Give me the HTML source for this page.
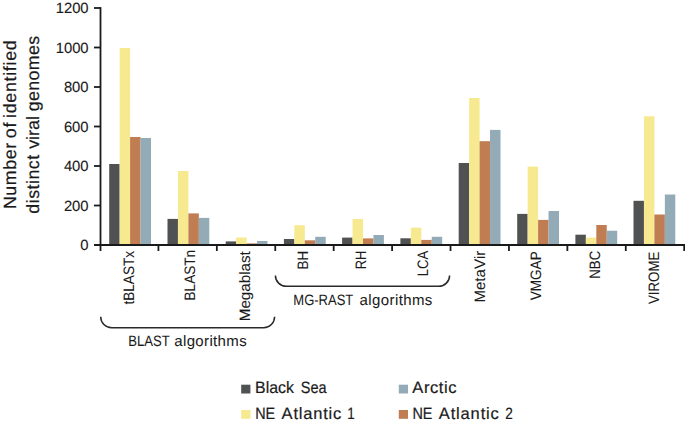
<!DOCTYPE html>
<html><head><meta charset="utf-8"><style>
html,body{margin:0;padding:0;background:#fff;width:685px;height:425px;overflow:hidden}
text{stroke:#1a1a1a;text-rendering:geometricPrecision;font-kerning:none;font-variant-ligatures:none;white-space:pre}
</style></head><body>
<svg width="685" height="425" viewBox="0 0 685 425" style="display:block">
<rect width="685" height="425" fill="#fff"/>
<rect x="109.20" y="164.00" width="10.45" height="81.00" fill="#505152"/>
<rect x="119.65" y="48.00" width="10.45" height="197.00" fill="#f6e98f"/>
<rect x="130.10" y="137.00" width="10.45" height="108.00" fill="#c07d52"/>
<rect x="140.55" y="138.00" width="10.45" height="107.00" fill="#92abb6"/>
<rect x="167.50" y="218.90" width="10.45" height="26.10" fill="#505152"/>
<rect x="177.95" y="171.00" width="10.45" height="74.00" fill="#f6e98f"/>
<rect x="188.40" y="213.40" width="10.45" height="31.60" fill="#c07d52"/>
<rect x="198.85" y="217.90" width="10.45" height="27.10" fill="#92abb6"/>
<rect x="225.70" y="241.40" width="10.45" height="3.60" fill="#505152"/>
<rect x="236.15" y="237.50" width="10.45" height="7.50" fill="#f6e98f"/>
<rect x="246.60" y="243.40" width="10.45" height="1.60" fill="#c07d52"/>
<rect x="257.05" y="241.00" width="10.45" height="4.00" fill="#92abb6"/>
<rect x="283.90" y="239.00" width="10.45" height="6.00" fill="#505152"/>
<rect x="294.35" y="225.20" width="10.45" height="19.80" fill="#f6e98f"/>
<rect x="304.80" y="240.30" width="10.45" height="4.70" fill="#c07d52"/>
<rect x="315.25" y="236.80" width="10.45" height="8.20" fill="#92abb6"/>
<rect x="342.10" y="237.60" width="10.45" height="7.40" fill="#505152"/>
<rect x="352.55" y="219.00" width="10.45" height="26.00" fill="#f6e98f"/>
<rect x="363.00" y="238.40" width="10.45" height="6.60" fill="#c07d52"/>
<rect x="373.45" y="235.00" width="10.45" height="10.00" fill="#92abb6"/>
<rect x="400.40" y="238.30" width="10.45" height="6.70" fill="#505152"/>
<rect x="410.85" y="227.60" width="10.45" height="17.40" fill="#f6e98f"/>
<rect x="421.30" y="239.90" width="10.45" height="5.10" fill="#c07d52"/>
<rect x="431.75" y="236.80" width="10.45" height="8.20" fill="#92abb6"/>
<rect x="458.70" y="163.00" width="10.45" height="82.00" fill="#505152"/>
<rect x="469.15" y="98.00" width="10.45" height="147.00" fill="#f6e98f"/>
<rect x="479.60" y="141.20" width="10.45" height="103.80" fill="#c07d52"/>
<rect x="490.05" y="129.90" width="10.45" height="115.10" fill="#92abb6"/>
<rect x="517.20" y="213.90" width="10.45" height="31.10" fill="#505152"/>
<rect x="527.65" y="166.60" width="10.45" height="78.40" fill="#f6e98f"/>
<rect x="538.10" y="219.90" width="10.45" height="25.10" fill="#c07d52"/>
<rect x="548.55" y="211.00" width="10.45" height="34.00" fill="#92abb6"/>
<rect x="575.40" y="234.70" width="10.45" height="10.30" fill="#505152"/>
<rect x="585.85" y="237.60" width="10.45" height="7.40" fill="#f6e98f"/>
<rect x="596.30" y="225.00" width="10.45" height="20.00" fill="#c07d52"/>
<rect x="606.75" y="230.70" width="10.45" height="14.30" fill="#92abb6"/>
<rect x="633.50" y="200.80" width="10.45" height="44.20" fill="#505152"/>
<rect x="643.95" y="116.30" width="10.45" height="128.70" fill="#f6e98f"/>
<rect x="654.40" y="214.50" width="10.45" height="30.50" fill="#c07d52"/>
<rect x="664.85" y="194.50" width="10.45" height="50.50" fill="#92abb6"/>
<g stroke="#1a1a1a" stroke-width="1.8" fill="none">
<line x1="100.5" y1="7.1" x2="100.5" y2="251"/>
<line x1="94" y1="245.0" x2="685" y2="245.0"/>
<line x1="94" y1="8.0" x2="100.5" y2="8.0"/>
<line x1="94" y1="47.5" x2="100.5" y2="47.5"/>
<line x1="94" y1="87.0" x2="100.5" y2="87.0"/>
<line x1="94" y1="126.5" x2="100.5" y2="126.5"/>
<line x1="94" y1="166.0" x2="100.5" y2="166.0"/>
<line x1="94" y1="205.5" x2="100.5" y2="205.5"/>
<line x1="94" y1="245.0" x2="100.5" y2="245.0"/>
<line x1="158.42" y1="245.0" x2="158.42" y2="251"/>
<line x1="216.84" y1="245.0" x2="216.84" y2="251"/>
<line x1="275.26" y1="245.0" x2="275.26" y2="251"/>
<line x1="333.68" y1="245.0" x2="333.68" y2="251"/>
<line x1="392.10" y1="245.0" x2="392.10" y2="251"/>
<line x1="450.52" y1="245.0" x2="450.52" y2="251"/>
<line x1="508.94" y1="245.0" x2="508.94" y2="251"/>
<line x1="567.36" y1="245.0" x2="567.36" y2="251"/>
<line x1="625.78" y1="245.0" x2="625.78" y2="251"/>
<line x1="684.20" y1="245.0" x2="684.20" y2="251"/>
</g>
<g font-family='"Liberation Sans", sans-serif' font-size="14.8" fill="#1a1a1a" stroke-width="0.1" text-anchor="end">
<text x="88.6" y="13.35">1200</text>
<text x="88.6" y="52.85">1000</text>
<text x="88.6" y="92.35">800</text>
<text x="88.6" y="131.85">600</text>
<text x="88.6" y="171.35">400</text>
<text x="88.6" y="210.85">200</text>
<text x="88.6" y="250.35">0</text>
</g>
<text font-family='"Liberation Sans", sans-serif' font-size="17.8" fill="#1a1a1a" stroke-width="0.2" transform="translate(15.96,0) rotate(-90)" x="-209.06" textLength="66.16" lengthAdjust="spacing">Number</text>
<text font-family='"Liberation Sans", sans-serif' font-size="17.8" fill="#1a1a1a" stroke-width="0.2" transform="translate(15.96,0) rotate(-90)" x="-138.35" textLength="15.82" lengthAdjust="spacing">of</text>
<text font-family='"Liberation Sans", sans-serif' font-size="17.8" fill="#1a1a1a" stroke-width="0.2" transform="translate(15.96,0) rotate(-90)" x="-117.89" textLength="77.54" lengthAdjust="spacing">identified</text>
<text font-family='"Liberation Sans", sans-serif' font-size="17.8" fill="#1a1a1a" stroke-width="0.2" transform="translate(38.96,0) rotate(-90)" x="-213.65" textLength="58.78" lengthAdjust="spacing">distinct</text>
<text font-family='"Liberation Sans", sans-serif' font-size="17.8" fill="#1a1a1a" stroke-width="0.2" transform="translate(38.96,0) rotate(-90)" x="-148.86" textLength="32.86" lengthAdjust="spacingAndGlyphs">viral</text>
<text font-family='"Liberation Sans", sans-serif' font-size="17.8" fill="#1a1a1a" stroke-width="0.2" transform="translate(38.96,0) rotate(-90)" x="-111.35" textLength="75.59" lengthAdjust="spacing">genomes</text>
<text font-family='"Liberation Sans", sans-serif' font-size="15.1" fill="#1a1a1a" stroke-width="0.05" transform="translate(133.70,0) rotate(-90)" x="-304.51" textLength="53.55" lengthAdjust="spacingAndGlyphs">tBLASTx</text>
<text font-family='"Liberation Sans", sans-serif' font-size="15.1" fill="#1a1a1a" stroke-width="0.05" transform="translate(195.26,0) rotate(-90)" x="-300.41" textLength="50.39" lengthAdjust="spacingAndGlyphs">BLASTn</text>
<text font-family='"Liberation Sans", sans-serif' font-size="15.1" fill="#1a1a1a" stroke-width="0.05" transform="translate(249.60,0) rotate(-90)" x="-321.25" textLength="70.06" lengthAdjust="spacingAndGlyphs">Megablast</text>
<text font-family='"Liberation Sans", sans-serif' font-size="15.1" fill="#1a1a1a" stroke-width="0.05" transform="translate(308.40,0) rotate(-90)" x="-269.40" textLength="18.70" lengthAdjust="spacingAndGlyphs">BH</text>
<text font-family='"Liberation Sans", sans-serif' font-size="15.1" fill="#1a1a1a" stroke-width="0.05" transform="translate(365.72,0) rotate(-90)" x="-269.36" textLength="18.61" lengthAdjust="spacingAndGlyphs">RH</text>
<text font-family='"Liberation Sans", sans-serif' font-size="15.1" fill="#1a1a1a" stroke-width="0.05" transform="translate(427.60,0) rotate(-90)" x="-276.27" textLength="25.40" lengthAdjust="spacingAndGlyphs">LCA</text>
<text font-family='"Liberation Sans", sans-serif' font-size="15.1" fill="#1a1a1a" stroke-width="0.05" transform="translate(484.94,0) rotate(-90)" x="-302.53" textLength="51.78" lengthAdjust="spacingAndGlyphs">MetaVir</text>
<text font-family='"Liberation Sans", sans-serif' font-size="15.1" fill="#1a1a1a" stroke-width="0.05" transform="translate(540.60,0) rotate(-90)" x="-300.36" textLength="49.08" lengthAdjust="spacingAndGlyphs">VMGAP</text>
<text font-family='"Liberation Sans", sans-serif' font-size="15.1" fill="#1a1a1a" stroke-width="0.05" transform="translate(600.38,0) rotate(-90)" x="-278.79" textLength="27.99" lengthAdjust="spacingAndGlyphs">NBC</text>
<text font-family='"Liberation Sans", sans-serif' font-size="15.1" fill="#1a1a1a" stroke-width="0.05" transform="translate(659.40,0) rotate(-90)" x="-304.06" textLength="52.33" lengthAdjust="spacingAndGlyphs">VIROME</text>
<g stroke="#2a2a2a" stroke-width="1.5" fill="none">
<path d="M100.7 316.8 A10.90 10.90 0 0 0 111.60 327.7 H263.70 A10.90 10.90 0 0 0 274.6 316.8"/>
<path d="M275.4 275.4 A10.90 10.90 0 0 0 286.30 286.3 H438.70 A10.90 10.90 0 0 0 449.6 275.4"/>
</g>
<text font-family='"Liberation Sans", sans-serif' font-size="15.0" fill="#1a1a1a" stroke-width="0.05" x="128.23" y="345.50" textLength="41.47" lengthAdjust="spacingAndGlyphs">BLAST</text>
<text font-family='"Liberation Sans", sans-serif' font-size="15.0" fill="#1a1a1a" stroke-width="0.05" x="174.26" y="345.50" textLength="72.38" lengthAdjust="spacing">algorithms</text>
<text font-family='"Liberation Sans", sans-serif' font-size="15.0" fill="#1a1a1a" stroke-width="0.05" x="293.33" y="304.50" textLength="59.97" lengthAdjust="spacingAndGlyphs">MG-RAST</text>
<text font-family='"Liberation Sans", sans-serif' font-size="15.0" fill="#1a1a1a" stroke-width="0.05" x="359.56" y="304.50" textLength="72.78" lengthAdjust="spacing">algorithms</text>
<text font-family='"Liberation Sans", sans-serif' font-size="16.5" fill="#1a1a1a" stroke-width="0.2" x="255.10" y="393.30" textLength="38.78" lengthAdjust="spacingAndGlyphs">Black</text>
<text font-family='"Liberation Sans", sans-serif' font-size="16.5" fill="#1a1a1a" stroke-width="0.2" x="300.74" y="393.30" textLength="25.76" lengthAdjust="spacingAndGlyphs">Sea</text>
<text font-family='"Liberation Sans", sans-serif' font-size="16.5" fill="#1a1a1a" stroke-width="0.2" x="255.22" y="418.50" textLength="20.00" lengthAdjust="spacingAndGlyphs">NE</text>
<text font-family='"Liberation Sans", sans-serif' font-size="16.5" fill="#1a1a1a" stroke-width="0.2" x="281.57" y="418.50" textLength="59.77" lengthAdjust="spacing">Atlantic</text>
<text font-family='"Liberation Sans", sans-serif' font-size="16.5" fill="#1a1a1a" stroke-width="0.2" x="347.28" y="418.50" textLength="7.48" lengthAdjust="spacingAndGlyphs">1</text>
<text font-family='"Liberation Sans", sans-serif' font-size="16.5" fill="#1a1a1a" stroke-width="0.2" x="412.37" y="393.30" textLength="44.17" lengthAdjust="spacing">Arctic</text>
<text font-family='"Liberation Sans", sans-serif' font-size="16.5" fill="#1a1a1a" stroke-width="0.2" x="412.42" y="418.50" textLength="20.00" lengthAdjust="spacingAndGlyphs">NE</text>
<text font-family='"Liberation Sans", sans-serif' font-size="16.5" fill="#1a1a1a" stroke-width="0.2" x="438.77" y="418.50" textLength="60.07" lengthAdjust="spacing">Atlantic</text>
<text font-family='"Liberation Sans", sans-serif' font-size="16.5" fill="#1a1a1a" stroke-width="0.2" x="505.22" y="418.50" textLength="7.57" lengthAdjust="spacingAndGlyphs">2</text>
<rect x="241.2" y="384.7" width="9.2" height="8.8" fill="#505152"/>
<rect x="241.2" y="410" width="9.2" height="8.8" fill="#f6e98f"/>
<rect x="398.8" y="384.7" width="9.2" height="8.8" fill="#92abb6"/>
<rect x="398.8" y="410" width="9.2" height="8.8" fill="#c07d52"/>
</svg>
</body></html>
